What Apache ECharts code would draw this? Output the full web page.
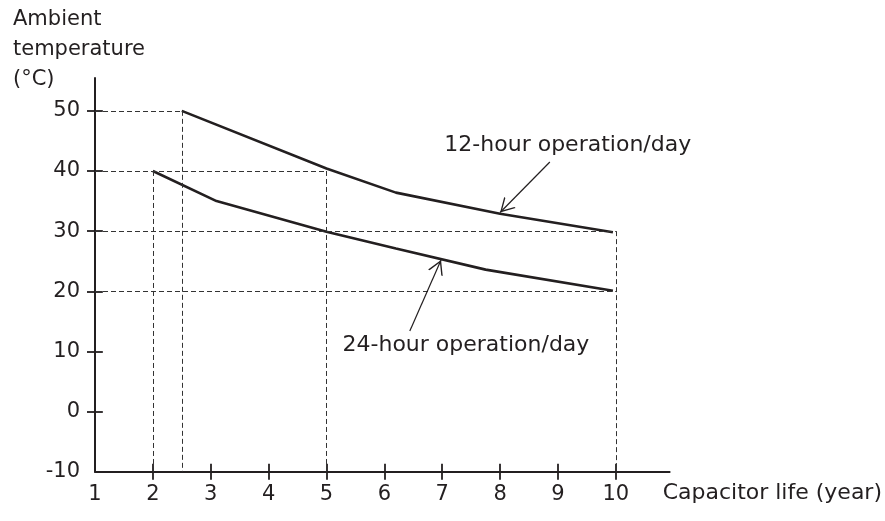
<!DOCTYPE html>
<html>
<head>
<meta charset="utf-8">
<script src="https://cdn.jsdelivr.net/npm/echarts@6/dist/echarts.min.js"></script>
<style>
  html, body { margin: 0; padding: 0; background: #fff; }
  #chart { width: 885px; height: 521px; }
</style>
</head>
<body>
<div id="chart"></div>
<script>
// Capacitor life versus ambient temperature

// tick labels
const lifeTicks = [1, 2, 3, 4, 5, 6, 7, 8, 9, 10];
const tempTicks = [-10, 0, 10, 20, 30, 40, 50];

// life curves (year, °C)
const life12h = [2.5, 5, 6.2, 8, 9.95];
const temp12h = [50, 40.4, 36.4, 32.9, 29.8];
const life24h = [2, 3.1, 5, 6.2, 7.75, 9.95];
const temp24h = [40, 35.0, 29.9, 27.1, 23.6, 20.1];

// dashed reading guides, start and end points (year, °C)
const guideFrom = [[1, 50], [2.5, 50], [1, 40], [2, 40], [5, 40], [1, 30], [1, 20], [10, 30]];
const guideTo   = [[2.5, 50], [2.5, -10], [5, 40], [2, -10], [5, -10], [10, 30], [10, 20], [10, -10]];

// curve callouts
const calloutText = ['12-hour operation/day', '24-hour operation/day'];
const calloutAt   = [[9.17, 44.3], [7.41, 11.1]];
const arrowTail   = [[8.86, 41.5], [6.44, 13.4]];
const arrowTip    = [[8.0, 33.1], [6.98, 25.2]];

// axis extents and plot layout
const X_MIN = 1, X_MAX = 10.93;
const Y_MIN = -10, Y_MAX = 55.46;
const GRID = { left: 95, top: 78, width: 574.8, height: 393.7 };

const INK = '#231f20';
const FONT = "'DejaVu Sans', 'Liberation Sans', Arial, sans-serif";

const zip = (xs, ys) => xs.map((x, i) => [x, ys[i]]);
const openArrow = 'path://M50,0 L100,87 L90,87 L50,17 L10,87 L0,87 Z';
const ARROW_SIZE = [16, 14];

const chart = echarts.init(document.getElementById('chart'), null, { renderer: 'canvas' });

function callout(i) {
  return {
    markLine: {
      silent: true,
      animation: false,
      symbol: ['none', openArrow],
      symbolSize: ARROW_SIZE,
      symbolOffset: [[0, 0], [0, ARROW_SIZE[1] / 2]],
      label: { show: false },
      emphasis: { disabled: true },
      lineStyle: { type: 'solid', color: INK, width: 1.2 },
      data: [[{ coord: arrowTail[i] }, { coord: arrowTip[i] }]]
    },
    markPoint: {
      silent: true,
      animation: false,
      symbol: 'rect',
      symbolSize: 1,
      itemStyle: { color: 'rgba(0,0,0,0)' },
      label: {
        show: true,
        position: 'inside',
        color: INK,
        fontSize: 22,
        fontFamily: FONT,
        formatter: calloutText[i]
      },
      data: [{ coord: calloutAt[i] }]
    }
  };
}

const tickStyle = { color: INK, width: 1.8 };

chart.setOption({
  animation: false,
  backgroundColor: '#fff',
  title: {
    text: 'Ambient\ntemperature\n(°C)',
    left: 13,
    top: 4,
    padding: 0,
    textStyle: {
      color: INK,
      fontSize: 21,
      fontWeight: 'normal',
      fontFamily: FONT,
      lineHeight: 30.4
    }
  },
  grid: { left: GRID.left, top: GRID.top, width: GRID.width, height: GRID.height, containLabel: false },
  xAxis: [
    {
      type: 'value',
      min: X_MIN,
      max: X_MAX,
      position: 'bottom',
      name: 'Capacitor life (year)',
      nameLocation: 'end',
      nameGap: -7,
      nameTextStyle: {
        color: INK, fontSize: 22, fontFamily: FONT,
        align: 'left', verticalAlign: 'top', padding: [11, 0, 0, 0]
      },
      axisLine: { show: true, onZero: false, lineStyle: { color: INK, width: 2 } },
      axisTick: { show: true, inside: false, length: 8, lineStyle: tickStyle, customValues: lifeTicks.slice(1) },
      axisLabel: { show: true, margin: 12, color: INK, fontSize: 21, fontFamily: FONT, customValues: lifeTicks },
      splitLine: { show: false }
    },
    {
      // upper half of the crossing x ticks
      type: 'value',
      min: X_MIN,
      max: X_MAX,
      position: 'top',
      offset: -GRID.height,
      axisLine: { show: false, onZero: false },
      axisTick: { show: true, inside: false, length: 8, lineStyle: tickStyle, customValues: lifeTicks.slice(1) },
      axisLabel: { show: false },
      splitLine: { show: false }
    }
  ],
  yAxis: [
    {
      type: 'value',
      min: Y_MIN,
      max: Y_MAX,
      position: 'left',
      axisLine: { show: true, onZero: false, lineStyle: { color: INK, width: 2 } },
      axisTick: { show: true, inside: false, length: 8, lineStyle: tickStyle, customValues: tempTicks.slice(1) },
      axisLabel: { show: true, margin: 15, color: INK, fontSize: 21, fontFamily: FONT, customValues: tempTicks },
      splitLine: { show: false }
    },
    {
      // right half of the crossing y ticks
      type: 'value',
      min: Y_MIN,
      max: Y_MAX,
      position: 'right',
      offset: -GRID.width,
      axisLine: { show: false, onZero: false },
      axisTick: { show: true, inside: false, length: 8, lineStyle: tickStyle, customValues: tempTicks.slice(1) },
      axisLabel: { show: false },
      splitLine: { show: false }
    }
  ],
  series: [
    {
      name: 'guides',
      type: 'line',
      data: [],
      z: 1,
      markLine: {
        silent: true,
        animation: false,
        symbol: ['none', 'none'],
        label: { show: false },
        emphasis: { disabled: true },
        lineStyle: { type: [5, 3], color: '#333', width: 1 },
        data: guideFrom.map((p, i) => [{ coord: p }, { coord: guideTo[i] }])
      }
    },
    Object.assign({
      name: '12-hour operation/day',
      type: 'line',
      xAxisIndex: 0,
      yAxisIndex: 0,
      data: zip(life12h, temp12h),
      symbol: 'none',
      z: 3,
      lineStyle: { color: INK, width: 2.6 }
    }, callout(0)),
    Object.assign({
      name: '24-hour operation/day',
      type: 'line',
      xAxisIndex: 0,
      yAxisIndex: 0,
      data: zip(life24h, temp24h),
      symbol: 'none',
      z: 3,
      lineStyle: { color: INK, width: 2.6 }
    }, callout(1))
  ]
});
</script>
</body>
</html>
